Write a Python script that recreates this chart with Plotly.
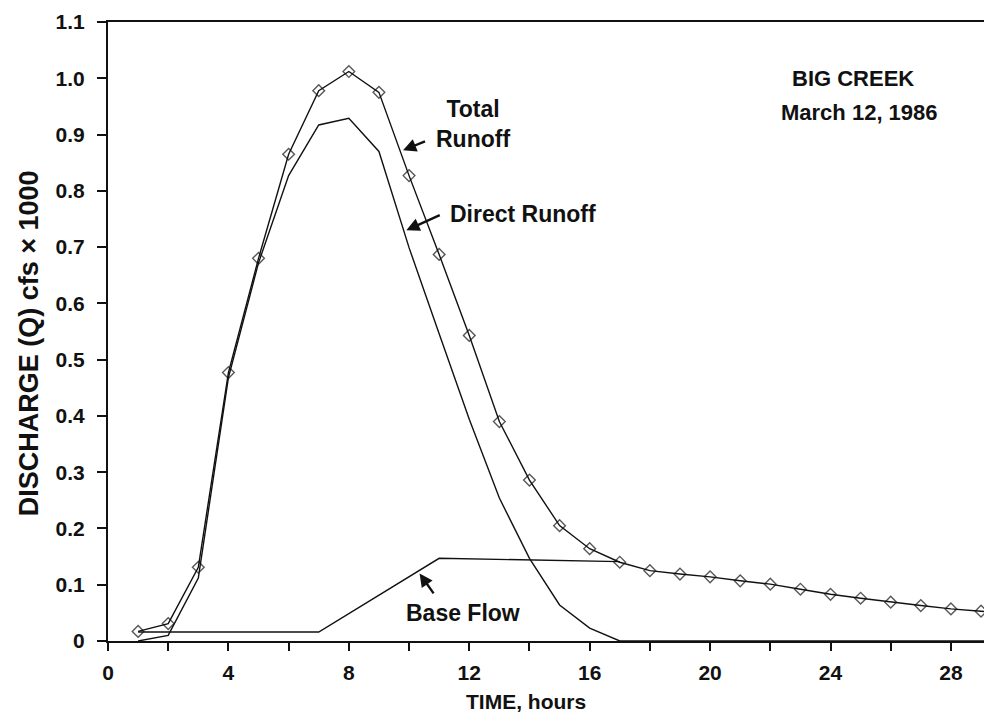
import plotly.graph_objects as go

# ---- data ----
hours_total = list(range(1, 31))
total_runoff = [0.017, 0.031, 0.131, 0.477, 0.680, 0.865, 0.978, 1.012, 0.975, 0.827,
                0.687, 0.543, 0.390, 0.286, 0.205, 0.164, 0.140, 0.125, 0.119, 0.114,
                0.107, 0.101, 0.092, 0.083, 0.076, 0.069, 0.063, 0.057, 0.053, 0.047]

hours_direct = [1, 2, 3, 4, 5, 6, 7, 8, 9, 10, 11, 12, 13, 14, 15, 16, 17, 30]
direct_runoff = [0.0, 0.010, 0.112, 0.468, 0.672, 0.827, 0.917, 0.929, 0.870, 0.699,
                 0.546, 0.394, 0.254, 0.147, 0.064, 0.023, 0.0, 0.0]

hours_base = [1, 7, 11, 17]
base_flow = [0.016, 0.016, 0.147, 0.141]

x_tick_vals = [0, 4, 8, 12, 16, 20, 24, 28]
y_tick_vals = [0, 0.1, 0.2, 0.3, 0.4, 0.5, 0.6, 0.7, 0.8, 0.9, 1.0, 1.1]
y_tick_text = ["0", "0.1", "0.2", "0.3", "0.4", "0.5", "0.6", "0.7", "0.8", "0.9", "1.0", "1.1"]

FONT = "Liberation Sans, Arial, sans-serif"
INK = "#111111"

fig = go.Figure()

fig.add_trace(go.Scatter(x=hours_base, y=base_flow, mode="lines",
                         line=dict(color=INK, width=1.4), name="Base Flow",
                         showlegend=False))
fig.add_trace(go.Scatter(x=hours_direct, y=direct_runoff, mode="lines",
                         line=dict(color=INK, width=1.4), name="Direct Runoff",
                         showlegend=False))
marker_sizes = [9] * (len(hours_total) - 1) + [0]
fig.add_trace(go.Scatter(x=hours_total, y=total_runoff, mode="lines+markers",
                         line=dict(color=INK, width=1.4),
                         marker=dict(symbol="diamond-open", size=marker_sizes,
                                     color=INK, line=dict(width=1.4, color=INK)),
                         name="Total Runoff", showlegend=False))

ann_font = dict(family=FONT, size=23, color=INK, weight="bold")
tick_font = dict(family=FONT, size=21, color=INK, weight="bold")

annotations = [
    # text labels
    dict(x=12.11, y=0.919, text="Total<br>Runoff", showarrow=False,
         xanchor="center", yanchor="middle", align="center", font=ann_font),
    dict(x=11.30, y=0.759, text="Direct Runoff", showarrow=False,
         xanchor="left", yanchor="middle", font=ann_font),
    dict(x=11.8, y=0.050, text="Base Flow", showarrow=False,
         xanchor="center", yanchor="middle", font=ann_font),
    dict(x=24.75, y=0.999, text="BIG CREEK", showarrow=False,
         xanchor="center", yanchor="middle", font=dict(family=FONT, size=22, color=INK, weight="bold")),
    dict(x=24.95, y=0.940, text="March 12, 1986", showarrow=False,
         xanchor="center", yanchor="middle", font=dict(family=FONT, size=22, color=INK, weight="bold")),
    # axis titles
    dict(x=0.4686, y=0, xref="paper", yref="paper", yshift=-60, text="TIME, hours",
         showarrow=False, xanchor="center", yanchor="middle", borderpad=0,
         font=dict(family=FONT, size=21, color=INK, weight="bold")),
    dict(x=0, y=0.481, xref="paper", yref="paper", xshift=-79, text="DISCHARGE (Q) cfs × 1000",
         showarrow=False, xanchor="center", yanchor="middle", textangle=-90, borderpad=0,
         font=dict(family=FONT, size=27, color=INK, weight="bold")),
    # arrows (tip at x,y; tail at ax,ay)
    dict(x=9.80, y=0.872, ax=10.58, ay=0.889, axref="x", ayref="y", text="",
         showarrow=True, arrowhead=2, arrowsize=1.1, arrowwidth=2.4, arrowcolor=INK),
    dict(x=9.91, y=0.730, ax=11.07, ay=0.758, axref="x", ayref="y", text="",
         showarrow=True, arrowhead=2, arrowsize=1.1, arrowwidth=2.4, arrowcolor=INK),
    dict(x=10.35, y=0.120, ax=10.85, ay=0.082, axref="x", ayref="y", text="",
         showarrow=True, arrowhead=2, arrowsize=1.1, arrowwidth=2.4, arrowcolor=INK),
]

fig.update_layout(
    width=992, height=713,
    margin=dict(l=100, r=0, t=14, b=80),
    paper_bgcolor="white", plot_bgcolor="white",
    font=dict(family=FONT, color=INK),
    annotations=annotations,
    showlegend=False,
)

fig.update_xaxes(
    range=[0, 29.63], showgrid=False, zeroline=False,
    showline=True, linecolor=INK, linewidth=2, mirror=True,
    ticks="outside", ticklen=8, tickwidth=1.6, tickcolor=INK,
    tickvals=x_tick_vals, ticklabelstandoff=4,
    minor=dict(dtick=2, tick0=0, ticks="outside", ticklen=8, tickwidth=1.6, tickcolor=INK),
    tickfont=tick_font,
)

fig.update_yaxes(
    range=[0, 1.1], showgrid=False, zeroline=False,
    showline=True, linecolor=INK, linewidth=2,
    ticks="outside", ticklen=9, tickwidth=1.6, tickcolor=INK,
    tickvals=y_tick_vals, ticktext=y_tick_text, ticklabelstandoff=8,
    tickfont=tick_font,
)

fig.write_html("out.html")
